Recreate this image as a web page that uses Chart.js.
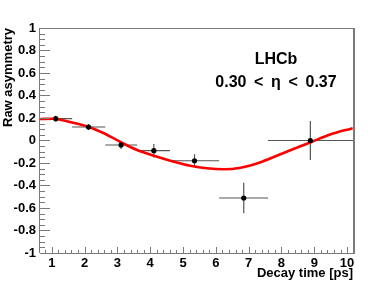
<!DOCTYPE html>
<html>
<head>
<meta charset="utf-8">
<script src="https://cdn.jsdelivr.net/npm/chart.js@4.4.0/dist/chart.umd.min.js"></script>
<style>
  html, body { margin: 0; padding: 0; background: #fff; }
  #wrap { width: 392px; height: 282px; position: relative; }
</style>
</head>
<body>
<div id="wrap"><canvas id="asym" role="img" aria-label="Raw asymmetry versus decay time, LHCb, 0.30 < eta < 0.37, with fitted oscillation curve"></canvas></div>
<script>
// binned raw asymmetry
const binCentre = [1.12, 2.12, 3.11, 4.11, 5.35, 6.85, 8.88]
const binLow = [0.55, 1.62, 2.63, 3.6, 4.6, 6.1, 7.59]
const binHigh = [1.62, 2.63, 3.6, 4.6, 6.1, 7.59, 10.4]
const rawAsym = [0.194, 0.12, -0.04, -0.09, -0.18, -0.511, 0.0]
const asymErr = [0.027, 0.027, 0.035, 0.06, 0.058, 0.136, 0.173]

// fitted curve, sampled off the plot
const fitTime = [0.63, 1.04, 1.55, 2.06, 2.57, 3.07, 3.58, 4.21, 4.72, 5.22, 5.73, 6.24, 6.75, 7.41, 7.91, 8.42, 8.93, 9.44, 9.95, 10.17]
const fitAsym = [0.191, 0.194, 0.164, 0.126, 0.067, -0.01, -0.082, -0.144, -0.188, -0.224, -0.247, -0.256, -0.242, -0.188, -0.129, -0.069, -0.011, 0.049, 0.093, 0.108]

const xTicks = [1, 2, 3, 4, 5, 6, 7, 8, 9, 10]
const yTicks = [-1, -0.8, -0.6, -0.4, -0.2, 0, 0.2, 0.4, 0.6, 0.8, 1]

const FONT = '"Liberation Sans", Arial, Helvetica, sans-serif'
const AXIS_GREY = '#7a7a7a'

// error bars under the markers
const errorBars = {
  id: 'errorBars',
  beforeDatasetsDraw(chart) {
    const { ctx, chartArea: a, scales: { x, y } } = chart
    ctx.save()
    ctx.beginPath()
    ctx.rect(a.left, a.top, a.right - a.left, a.bottom - a.top)
    ctx.clip()
    ctx.strokeStyle = '#555'
    ctx.lineWidth = 1.2
    binCentre.forEach((t, i) => {
      const py = y.getPixelForValue(rawAsym[i])
      const px = x.getPixelForValue(t)
      ctx.beginPath()
      ctx.moveTo(x.getPixelForValue(binLow[i]), py)
      ctx.lineTo(x.getPixelForValue(binHigh[i]), py)
      ctx.moveTo(px, y.getPixelForValue(rawAsym[i] + asymErr[i]))
      ctx.lineTo(px, y.getPixelForValue(rawAsym[i] - asymErr[i]))
      ctx.stroke()
    })
    ctx.restore()
  }
}

// ROOT-style frame with inward ticks, plus the LHCb label
const rootFrame = {
  id: 'rootFrame',
  afterDraw(chart) {
    const { ctx, chartArea: a, scales: { x, y } } = chart
    ctx.save()
    ctx.strokeStyle = AXIS_GREY
    ctx.lineWidth = 1
    ctx.beginPath()
    ctx.moveTo(Math.round(a.left) - 0.5, a.top)
    ctx.lineTo(Math.round(a.left) - 0.5, a.bottom)
    ctx.moveTo(a.left, Math.round(a.bottom) + 0.5)
    ctx.lineTo(a.right, Math.round(a.bottom) + 0.5)
    ctx.moveTo(a.left, Math.round(a.top) + 0.5)
    ctx.lineTo(a.right, Math.round(a.top) + 0.5)
    ctx.stroke()
    ctx.lineWidth = 2
    ctx.beginPath()
    ctx.moveTo(Math.round(a.right) + 1, a.top)
    ctx.lineTo(Math.round(a.right) + 1, a.bottom + 1)
    ctx.stroke()

    ctx.lineWidth = 1
    ctx.beginPath()
    for (let v = -1; v <= 1.0001; v += 0.05) {
      const py = Math.round(y.getPixelForValue(v)) + 0.5
      const major = Math.abs(v * 5 - Math.round(v * 5)) < 1e-6
      ctx.moveTo(a.left, py)
      ctx.lineTo(a.left + (major ? 10 : 5), py)
    }
    for (let v = 0.8; v <= x.max + 1e-6; v += 0.2) {
      if (v < x.min) continue
      const px = Math.round(x.getPixelForValue(v)) + 0.5
      const major = Math.abs(v - Math.round(v)) < 1e-6
      ctx.moveTo(px, a.bottom)
      ctx.lineTo(px, a.bottom - (major ? 6 : 3))
    }
    ctx.stroke()

    ctx.fillStyle = '#000'
    ctx.textAlign = 'center'
    ctx.textBaseline = 'alphabetic'
    ctx.font = 'bold 16px ' + FONT
    ctx.fillText('LHCb', 276, 64)
    ctx.fillText('0.30 \u2009<\u2009 \u03B7 \u2009<\u2009 0.37', 276, 87)
    ctx.restore()
  }
}

new Chart(document.getElementById('asym'), {
  type: 'scatter',
  data: {
    datasets: [
      {
        label: 'Raw asymmetry',
        data: binCentre.map((t, i) => ({ x: t, y: rawAsym[i] })),
        backgroundColor: '#000',
        borderColor: '#000',
        pointRadius: 2.6,
        pointHoverRadius: 2.6,
        pointBorderWidth: 0
      },
      {
        label: 'Fit',
        type: 'line',
        data: fitTime.map((t, i) => ({ x: t, y: fitAsym[i] })),
        borderColor: '#ff0000',
        borderWidth: 2.6,
        pointRadius: 0,
        cubicInterpolationMode: 'monotone',
        fill: false
      }
    ]
  },
  options: {
    responsive: true,
    maintainAspectRatio: false,
    animation: false,
    events: [],
    layout: { padding: { top: 28, right: 39, left: 0, bottom: 0 } },
    plugins: { legend: { display: false }, tooltip: { enabled: false } },
    scales: {
      x: {
        type: 'linear',
        min: 0.64,
        max: 10.18,
        afterBuildTicks: s => { s.ticks = xTicks.map(v => ({ value: v })) },
        afterFit: s => { s.height = 29 },
        grid: { display: false, drawTicks: false },
        border: { display: false },
        ticks: {
          padding: 3,
          color: '#000',
          maxRotation: 0,
          autoSkip: false,
          font: { family: FONT, size: 13, weight: 'bold' },
          callback: v => String(v)
        },
        title: {
          display: true,
          text: 'Decay time [ps]',
          align: 'end',
          color: '#000',
          padding: { top: 0, bottom: 1 },
          font: { family: FONT, size: 13, weight: 'bold' }
        }
      },
      y: {
        min: -1,
        max: 1,
        afterBuildTicks: s => { s.ticks = yTicks.map(v => ({ value: v })) },
        afterFit: s => { s.width = 40 },
        grid: { display: false, drawTicks: false },
        border: { display: false },
        ticks: {
          padding: 4,
          color: '#000',
          autoSkip: false,
          font: { family: FONT, size: 13, weight: 'bold' },
          callback: v => String(v)
        },
        title: {
          display: true,
          text: 'Raw asymmetry',
          align: 'end',
          color: '#000',
          padding: { top: 1, bottom: 0 },
          font: { family: FONT, size: 13, weight: 'bold' }
        }
      }
    }
  },
  plugins: [errorBars, rootFrame]
})
</script>
</body>
</html>
